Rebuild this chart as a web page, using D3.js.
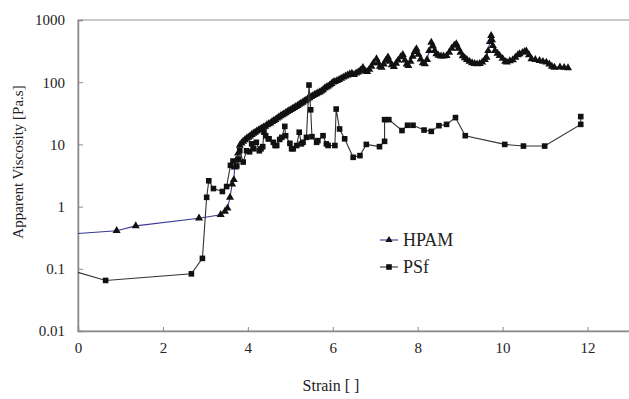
<!DOCTYPE html>
<meta charset="utf-8">
<script src="https://d3js.org/d3.v7.min.js"></script>
<style>
  body { margin: 0; background: #fff; }
  text { font-family: "Liberation Serif", "Times New Roman", serif; }
</style>
<svg id="chart" width="629" height="399"></svg>
<script>

// HPAM series (strain, apparent viscosity)
var hpamStrain = [-0.2, 0.91, 1.36, 2.85, 3.36, 3.46, 3.52, 3.58, 3.63, 3.67, 3.69, 3.72, 3.77, 3.81,
  3.85, 3.89, 3.93, 3.97, 4.01, 4.05, 4.09, 4.13, 4.17, 4.21, 4.25, 4.29, 4.33, 4.37, 4.41, 4.45,
  4.49, 4.53, 4.57, 4.61, 4.65, 4.69, 4.73, 4.77, 4.81, 4.85, 4.89, 4.93, 4.97, 5.01, 5.05, 5.09,
  5.13, 5.17, 5.21, 5.25, 5.29, 5.33, 5.37, 5.41, 5.45, 5.49, 5.53, 5.57, 5.61, 5.65, 5.69, 5.73,
  5.77, 5.81, 5.85, 5.89, 5.93, 5.97, 6.01, 6.05, 6.10, 6.15, 6.20, 6.25, 6.30, 6.35, 6.40, 6.45,
  6.50, 6.55, 6.60, 6.65, 6.71, 6.76, 6.81, 6.86, 6.91, 6.96, 7.03, 7.07, 7.11, 7.15, 7.20, 7.25,
  7.30, 7.34, 7.39, 7.44, 7.49, 7.54, 7.60, 7.65, 7.70, 7.74, 7.78, 7.83, 7.88, 7.93, 7.97, 8.02,
  8.07, 8.12, 8.17, 8.22, 8.27, 8.32, 8.36, 8.40, 8.44, 8.49, 8.55, 8.61, 8.68, 8.74, 8.80, 8.86,
  8.91, 8.96, 9.01, 9.06, 9.11, 9.16, 9.22, 9.28, 9.34, 9.40, 9.46, 9.52, 9.58, 9.62, 9.66, 9.70,
  9.73, 9.75, 9.77, 9.82, 9.88, 9.93, 10.00, 10.06, 10.10, 10.17, 10.24, 10.30, 10.36, 10.40, 10.47,
  10.52, 10.56, 10.62, 10.68, 10.77, 10.87, 10.95, 11.03, 11.10, 11.16, 11.22, 11.35, 11.45, 11.54];
var hpamVisc = [0.36, 0.41, 0.49, 0.65, 0.74, 0.84, 0.94, 1.4, 2.3, 2.7, 4.3, 5.5, 7.2, 9.6,
  10.5, 11.2, 11.8, 12.5, 13.0, 13.6, 14.3, 15.0, 15.6, 16.3, 17.0, 17.6, 18.2, 18.9, 19.5, 20.5,
  21.3, 22.0, 23.2, 24.0, 25.0, 26.3, 27.5, 28.6, 29.8, 31.0, 32.2, 33.5, 34.8, 36.0, 37.5, 39.0,
  40.5, 42.0, 44.0, 45.5, 47.5, 49.5, 51.5, 54.0, 56.0, 58.5, 60.5, 63.0, 65.0, 67.5, 69.0, 72.0,
  75.0, 80.0, 83.0, 86.0, 90.0, 95.0, 100, 102, 106, 110, 115, 120, 125, 130, 135, 138,
  132, 140, 145, 155, 172, 150, 148, 160, 180, 205, 237, 205, 180, 172, 195, 225,
  252, 215, 190, 178, 200, 225, 255, 278, 225, 195, 185, 215, 260, 310, 343, 280,
  235, 205, 196, 230, 320, 437, 380, 320, 285, 270, 262, 262, 266, 300, 350, 390,
  412, 350, 300, 265, 245, 230, 215, 205, 198, 196, 198, 210, 230, 250, 320, 450,
  560, 480, 386, 320, 290, 268, 240, 215, 209, 220, 229, 250, 275, 285, 300,
  310, 316, 275, 237, 230, 222, 215, 209, 195, 180, 173, 175, 172, 170];

// PSf series (strain, apparent viscosity)
var psfStrain = [-0.2, 0.65, 2.67, 2.93, 3.03, 3.08, 3.19, 3.40, 3.50, 3.59, 3.65, 3.74, 3.78, 3.81,
  3.89, 3.97, 4.04, 4.09, 4.14, 4.20, 4.27, 4.31, 4.35, 4.38, 4.42, 4.48, 4.50, 4.60, 4.64, 4.68,
  4.75, 4.80, 4.87, 4.89, 4.99, 5.03, 5.07, 5.15, 5.21, 5.26, 5.30, 5.38, 5.44, 5.48, 5.51, 5.62,
  5.65, 5.77, 5.85, 5.89, 6.05, 6.08, 6.16, 6.28, 6.48, 6.64, 6.79, 7.10, 7.22, 7.22, 7.32, 7.63,
  7.76, 7.89, 8.15, 8.32, 8.50, 8.68, 8.89, 9.12, 10.05, 10.49, 10.99, 11.84, 11.84];
var psfVisc = [0.096, 0.065, 0.083, 0.147, 1.41, 2.6, 1.95, 1.75, 2.1, 4.6, 5.4, 4.5, 5.8, 7.9,
  5.2, 7.9, 7.6, 10.2, 8.5, 10.8, 7.9, 8.5, 9.2, 15.7, 13.8, 12.3, 12.3, 10.8, 9.6, 9.6,
  12.0, 13.0, 19.5, 13.8, 10.4, 8.5, 8.5, 9.6, 15.7, 10.2, 10.8, 13.0, 90, 36, 13.3, 10.8,
  11.5, 13.8, 10.2, 9.6, 9.6, 37, 17.7, 12.3, 6.2, 6.6, 10, 9.2, 11.2, 25, 25, 16.7,
  20.3, 20.3, 17, 16.2, 20, 21, 27, 13.8, 10, 9.4, 9.4, 21, 28];

var yTicks = [0.01, 0.1, 1, 10, 100, 1000];
var yTickLabels = ["0.01", "0.1", "1", "10", "100", "1000"];
var xTicks = [0, 2, 4, 6, 8, 10, 12];
var seriesNames = ["HPAM", "PSf"];

var svg = d3.select("#chart");

var plotLeft = 78, plotRight = 630, plotTop = 20, plotBottom = 331;

var x = d3.scaleLinear().domain([0, 13]).range([plotLeft, plotRight]);
var y = d3.scaleLog().domain([0.01, 1000]).range([plotBottom, plotTop]);

var hpam = hpamStrain.map(function(d, i) { return [d, hpamVisc[i]]; });
var psf = psfStrain.map(function(d, i) { return [d, psfVisc[i]]; });

// plot frame (top edge visible, right edge off the picture)
svg.append("rect")
  .attr("x", plotLeft).attr("y", plotTop)
  .attr("width", plotRight - plotLeft).attr("height", plotBottom - plotTop)
  .attr("fill", "none")
  .attr("stroke", "#a8a8a8")
  .attr("stroke-width", 1.2);

svg.append("clipPath").attr("id", "plotclip")
  .append("rect")
  .attr("x", plotLeft).attr("y", plotTop)
  .attr("width", plotRight - plotLeft).attr("height", plotBottom - plotTop);

// axes
var yAxis = d3.axisLeft(y)
  .tickValues(yTicks)
  .tickFormat(function(d, i) { return yTickLabels[i]; })
  .tickSize(-5)
  .tickPadding(13);

var xAxis = d3.axisBottom(x)
  .tickValues(xTicks)
  .tickSize(-4)
  .tickPadding(11);

var gy = svg.append("g").attr("transform", "translate(" + plotLeft + ",0)").call(yAxis);
var gx = svg.append("g").attr("transform", "translate(0," + plotBottom + ")").call(xAxis);

[gx, gy].forEach(function(g) {
  g.attr("font-family", null).attr("font-size", null);
  g.select(".domain").attr("stroke", "#8a8a8a").attr("stroke-width", 1.5);
  g.selectAll(".tick line").attr("stroke", "#8a8a8a");
  g.selectAll(".tick text")
    .attr("fill", "#222")
    .style("font-size", "15px");
});

// axis titles
svg.append("text")
  .attr("transform", "translate(23,162) rotate(-90)")
  .attr("text-anchor", "middle")
  .attr("fill", "#222")
  .style("font-size", "15px")
  .text("Apparent Viscosity [Pa.s]");

svg.append("text")
  .attr("x", 331).attr("y", 391)
  .attr("text-anchor", "middle")
  .attr("fill", "#222")
  .style("font-size", "16px")
  .text("Strain [ ]");

var line = d3.line()
  .x(function(d) { return x(d[0]); })
  .y(function(d) { return y(d[1]); });

var plot = svg.append("g").attr("clip-path", "url(#plotclip)");

var triangle = d3.symbol().type(d3.symbolTriangle).size(28);

// HPAM
plot.append("path")
  .datum(hpam)
  .attr("fill", "none")
  .attr("stroke", "#3a3a96")
  .attr("stroke-width", 1.1)
  .attr("d", line);

plot.selectAll(".hpam")
  .data(hpam)
  .enter()
  .append("path")
    .attr("class", "hpam")
    .attr("transform", function(d) { return "translate(" + x(d[0]) + "," + y(d[1]) + ")"; })
    .attr("d", triangle)
    .attr("fill", "#111");

// PSf
plot.append("path")
  .datum(psf)
  .attr("fill", "none")
  .attr("stroke", "#333")
  .attr("stroke-width", 1.1)
  .attr("d", line);

plot.selectAll(".psf")
  .data(psf)
  .enter()
  .append("rect")
    .attr("class", "psf")
    .attr("x", function(d) { return x(d[0]) - 2.8; })
    .attr("y", function(d) { return y(d[1]) - 2.8; })
    .attr("width", 5.6)
    .attr("height", 5.6)
    .attr("fill", "#111");

// legend
var legend = svg.append("g");
var legendY = [240, 267];

seriesNames.forEach(function(name, i) {
  var ly = legendY[i];
  legend.append("line")
    .attr("x1", 380).attr("x2", 398)
    .attr("y1", ly).attr("y2", ly)
    .attr("stroke", i == 0 ? "#3a3a96" : "#333")
    .attr("stroke-width", 1.1);
  if (i == 0) {
    legend.append("path")
      .attr("transform", "translate(389," + ly + ")")
      .attr("d", d3.symbol().type(d3.symbolTriangle).size(22))
      .attr("fill", "#111");
  } else {
    legend.append("rect")
      .attr("x", 389 - 2.8).attr("y", ly - 2.8)
      .attr("width", 5.6).attr("height", 5.6)
      .attr("fill", "#111");
  }
  legend.append("text")
    .attr("x", 403).attr("y", ly)
    .attr("dy", "0.35em")
    .attr("fill", "#222")
    .style("font-size", "18px")
    .text(name);
});

</script>
